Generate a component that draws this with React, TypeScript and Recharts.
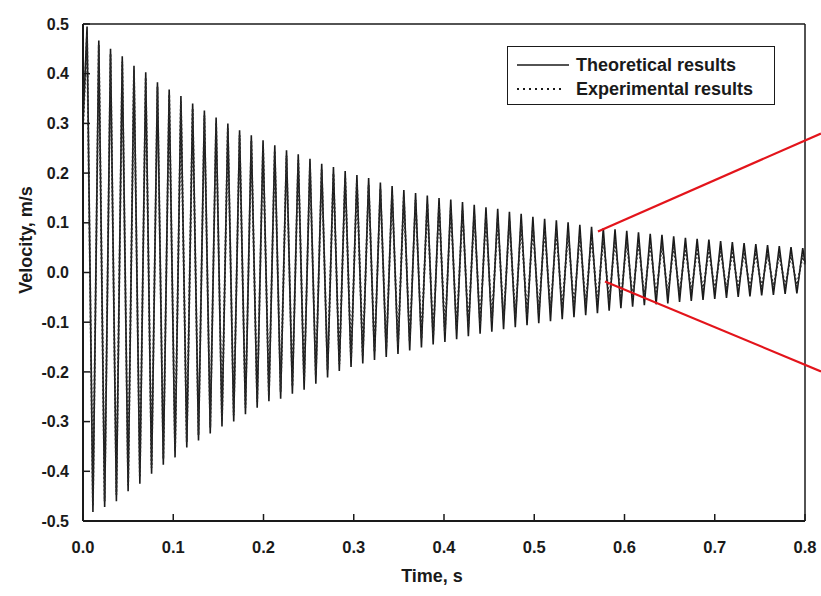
import React from 'react';
import { LineChart, Line, XAxis, YAxis, ReferenceLine, Legend } from 'recharts';

// times (s) of the positive peaks and negative troughs
const peakTimes = [
  0.0045, 0.0175, 0.0305, 0.0435, 0.0565, 0.0695, 0.0825, 0.0955, 0.1085, 0.1215,
  0.1345, 0.1475, 0.1605, 0.1735, 0.1865, 0.1995, 0.2125, 0.2255, 0.2385, 0.2515,
  0.2645, 0.2775, 0.2905, 0.3035, 0.3165, 0.3295, 0.3425, 0.3555, 0.3685, 0.3815,
  0.3945, 0.4075, 0.4205, 0.4335, 0.4465, 0.4595, 0.4725, 0.4855, 0.4985, 0.5115,
  0.5245, 0.5375, 0.5505, 0.5635, 0.5765, 0.5895, 0.6025, 0.6155, 0.6285, 0.6415,
  0.6545, 0.6675, 0.6805, 0.6935, 0.7065, 0.7195, 0.7325, 0.7455, 0.7585, 0.7715,
  0.7845, 0.7975,
];
const troughTimes = [
  0.011, 0.024, 0.037, 0.05, 0.063, 0.076, 0.089, 0.102, 0.115, 0.128,
  0.141, 0.154, 0.167, 0.18, 0.193, 0.206, 0.219, 0.232, 0.245, 0.258,
  0.271, 0.284, 0.297, 0.31, 0.323, 0.336, 0.349, 0.362, 0.375, 0.388,
  0.401, 0.414, 0.427, 0.44, 0.453, 0.466, 0.479, 0.492, 0.505, 0.518,
  0.531, 0.544, 0.557, 0.57, 0.583, 0.596, 0.609, 0.622, 0.635, 0.648,
  0.661, 0.674, 0.687, 0.7, 0.713, 0.726, 0.739, 0.752, 0.765, 0.778,
  0.791,
];

// Theoretical results (m/s)
const theoryPeaks = [
  0.495, 0.467, 0.45, 0.435, 0.416, 0.403, 0.383, 0.368, 0.355, 0.34,
  0.326, 0.312, 0.3, 0.286, 0.276, 0.266, 0.256, 0.246, 0.238, 0.229,
  0.219, 0.212, 0.204, 0.196, 0.19, 0.181, 0.174, 0.166, 0.16, 0.155,
  0.15, 0.147, 0.142, 0.136, 0.131, 0.128, 0.122, 0.118, 0.112, 0.108,
  0.105, 0.101, 0.096, 0.092, 0.089, 0.087, 0.084, 0.081, 0.078, 0.076,
  0.073, 0.07, 0.068, 0.066, 0.063, 0.061, 0.059, 0.057, 0.055, 0.053,
  0.051, 0.049,
];
const theoryTroughs = [
  -0.482, -0.472, -0.46, -0.44, -0.425, -0.405, -0.387, -0.372, -0.352, -0.338,
  -0.324, -0.31, -0.3, -0.285, -0.272, -0.259, -0.254, -0.244, -0.236, -0.224,
  -0.211, -0.198, -0.19, -0.183, -0.176, -0.17, -0.164, -0.157, -0.151, -0.145,
  -0.14, -0.134, -0.128, -0.123, -0.119, -0.114, -0.11, -0.106, -0.102, -0.098,
  -0.094, -0.09, -0.086, -0.082, -0.077, -0.072, -0.069, -0.066, -0.064, -0.062,
  -0.059, -0.057, -0.055, -0.053, -0.051, -0.049, -0.048, -0.046, -0.045, -0.043,
  -0.042,
];

// Experimental results (m/s)
const testPeaks = [
  0.48, 0.458, 0.44, 0.424, 0.407, 0.392, 0.374, 0.358, 0.344, 0.33,
  0.316, 0.302, 0.29, 0.276, 0.265, 0.255, 0.245, 0.235, 0.226, 0.217,
  0.207, 0.199, 0.191, 0.183, 0.176, 0.168, 0.16, 0.152, 0.146, 0.139,
  0.134, 0.13, 0.124, 0.118, 0.113, 0.108, 0.103, 0.098, 0.093, 0.089,
  0.085, 0.081, 0.077, 0.073, 0.07, 0.067, 0.064, 0.061, 0.058, 0.056,
  0.053, 0.051, 0.049, 0.047, 0.045, 0.043, 0.041, 0.04, 0.038, 0.037,
  0.036, 0.035,
];
const testTroughs = [
  -0.47, -0.46, -0.447, -0.428, -0.412, -0.393, -0.375, -0.36, -0.341, -0.327,
  -0.312, -0.298, -0.287, -0.272, -0.26, -0.247, -0.24, -0.229, -0.22, -0.208,
  -0.196, -0.184, -0.175, -0.167, -0.16, -0.153, -0.146, -0.139, -0.133, -0.127,
  -0.121, -0.115, -0.109, -0.104, -0.099, -0.094, -0.09, -0.086, -0.082, -0.078,
  -0.074, -0.07, -0.066, -0.062, -0.058, -0.054, -0.051, -0.048, -0.046, -0.044,
  -0.042, -0.04, -0.038, -0.036, -0.035, -0.033, -0.032, -0.031, -0.03, -0.029,
  -0.028,
];

// first and last samples at the plot edges
const startPoint = { t: 0, theory: 0.3, test: 0.29 };
const endPoint = { t: 0.8, theory: 0.02, test: 0.015 };

const xTicks = [0, 0.1, 0.2, 0.3, 0.4, 0.5, 0.6, 0.7, 0.8];
const yTicks = [-0.5, -0.4, -0.3, -0.2, -0.1, 0, 0.1, 0.2, 0.3, 0.4, 0.5];

// zoom-in pointer lines (data coords)
const pointerTop = [{ x: 0.5706, y: 0.0825 }, { x: 0.8177, y: 0.2797 }];
const pointerBottom = [{ x: 0.5784, y: -0.018 }, { x: 0.8177, y: -0.199 }];

const FONT = '"Liberation Sans", Arial, Helvetica, sans-serif';
const INK = '#1a1a1a';

type Row = { t: number; theory: number; test: number };

const rows: Row[] = [startPoint];
peakTimes.forEach((t, i) => {
  rows.push({ t, theory: theoryPeaks[i], test: testPeaks[i] });
  if (i < troughTimes.length) {
    rows.push({ t: troughTimes[i], theory: theoryTroughs[i], test: testTroughs[i] });
  }
});
rows.push(endPoint);

const XTick = (props: any) => {
  const { x, y, payload } = props;
  return (
    <g>
      <line x1={x} x2={x} y1={y} y2={y - 7} stroke={INK} strokeWidth={1.5} />
      <text x={x} y={y + 32} textAnchor="middle" fontFamily={FONT} fontWeight="bold" fontSize={16.5} fill={INK}>
        {Number(payload.value).toFixed(1)}
      </text>
    </g>
  );
};

const YTick = (props: any) => {
  const { x, y, payload } = props;
  return (
    <g>
      <line x1={x} x2={x + 7} y1={y} y2={y} stroke={INK} strokeWidth={1.5} />
      <text x={x - 14} y={y} dy="0.35em" textAnchor="end" fontFamily={FONT} fontWeight="bold" fontSize={16} fill={INK}>
        {Number(payload.value).toFixed(1)}
      </text>
    </g>
  );
};

const XTitle = () => (
  <text x={432} y={582} textAnchor="middle" fontFamily={FONT} fontWeight="bold" fontSize={18} fill={INK}>
    Time, s
  </text>
);

const YTitle = () => (
  <text
    x={26}
    y={240}
    transform="rotate(-90 26 240)"
    dy="0.35em"
    textAnchor="middle"
    fontFamily={FONT}
    fontWeight="bold"
    fontSize={18}
    fill={INK}
  >
    Velocity, m/s
  </text>
);

const LegendBox = () => (
  <div
    style={{
      border: `1.5px solid ${INK}`,
      boxSizing: 'border-box',
      width: 268,
      height: 59,
      padding: '6px 0 0 9px',
      fontFamily: FONT,
      fontWeight: 'bold',
      fontSize: 18,
      color: INK,
      lineHeight: '24px',
      background: '#fff',
    }}
  >
    <div style={{ display: 'flex', alignItems: 'center' }}>
      <svg width={52} height={10}>
        <line x1={0} x2={52} y1={5} y2={5} stroke={INK} strokeWidth={1.4} />
      </svg>
      <span style={{ marginLeft: 7 }}>Theoretical results</span>
    </div>
    <div style={{ display: 'flex', alignItems: 'center' }}>
      <svg width={52} height={10}>
        <line x1={0} x2={48} y1={5} y2={5} stroke={INK} strokeWidth={1.8} strokeDasharray="2 4" />
      </svg>
      <span style={{ marginLeft: 7 }}>Experimental results</span>
    </div>
  </div>
);

const App: React.FC = () => {
  return (
    <div style={{ position: 'absolute', left: 0, top: 0, width: 821, height: 596, background: '#fff' }}>
      <LineChart width={821} height={596} data={rows} margin={{ top: 24, right: 16, bottom: 15, left: 0 }}>
        <XAxis
          dataKey="t"
          type="number"
          domain={[0, 0.8]}
          ticks={xTicks}
          interval={0}
          height={60}
          tickSize={0}
          tickMargin={0}
          tick={<XTick />}
          axisLine={{ stroke: INK, strokeWidth: 2 }}
          label={<XTitle />}
        />
        <YAxis
          type="number"
          domain={[-0.5, 0.5]}
          ticks={yTicks}
          interval={0}
          width={83}
          tickSize={0}
          tickMargin={0}
          tick={<YTick />}
          axisLine={{ stroke: INK, strokeWidth: 2 }}
          label={<YTitle />}
        />
        <ReferenceLine y={0.5} stroke={INK} strokeWidth={1.5} />
        <ReferenceLine x={0.8} stroke={INK} strokeWidth={1.5} />
        <Line
          dataKey="theory"
          name="Theoretical results"
          stroke={INK}
          strokeWidth={1.6}
          dot={false}
          isAnimationActive={false}
        />
        <Line
          dataKey="test"
          name="Experimental results"
          stroke="#2a2a2a"
          strokeWidth={1.9}
          strokeDasharray="2 2"
          dot={false}
          isAnimationActive={false}
        />
        <ReferenceLine segment={pointerTop} stroke="#e3141b" strokeWidth={2.2} ifOverflow="visible" />
        <ReferenceLine segment={pointerBottom} stroke="#e3141b" strokeWidth={2.2} ifOverflow="visible" />
        <Legend
          layout="horizontal"
          verticalAlign="middle"
          align="center"
          wrapperStyle={{ left: 507, top: 46, width: 268, height: 59 }}
          content={<LegendBox />}
        />
      </LineChart>
    </div>
  );
};

export default App;
